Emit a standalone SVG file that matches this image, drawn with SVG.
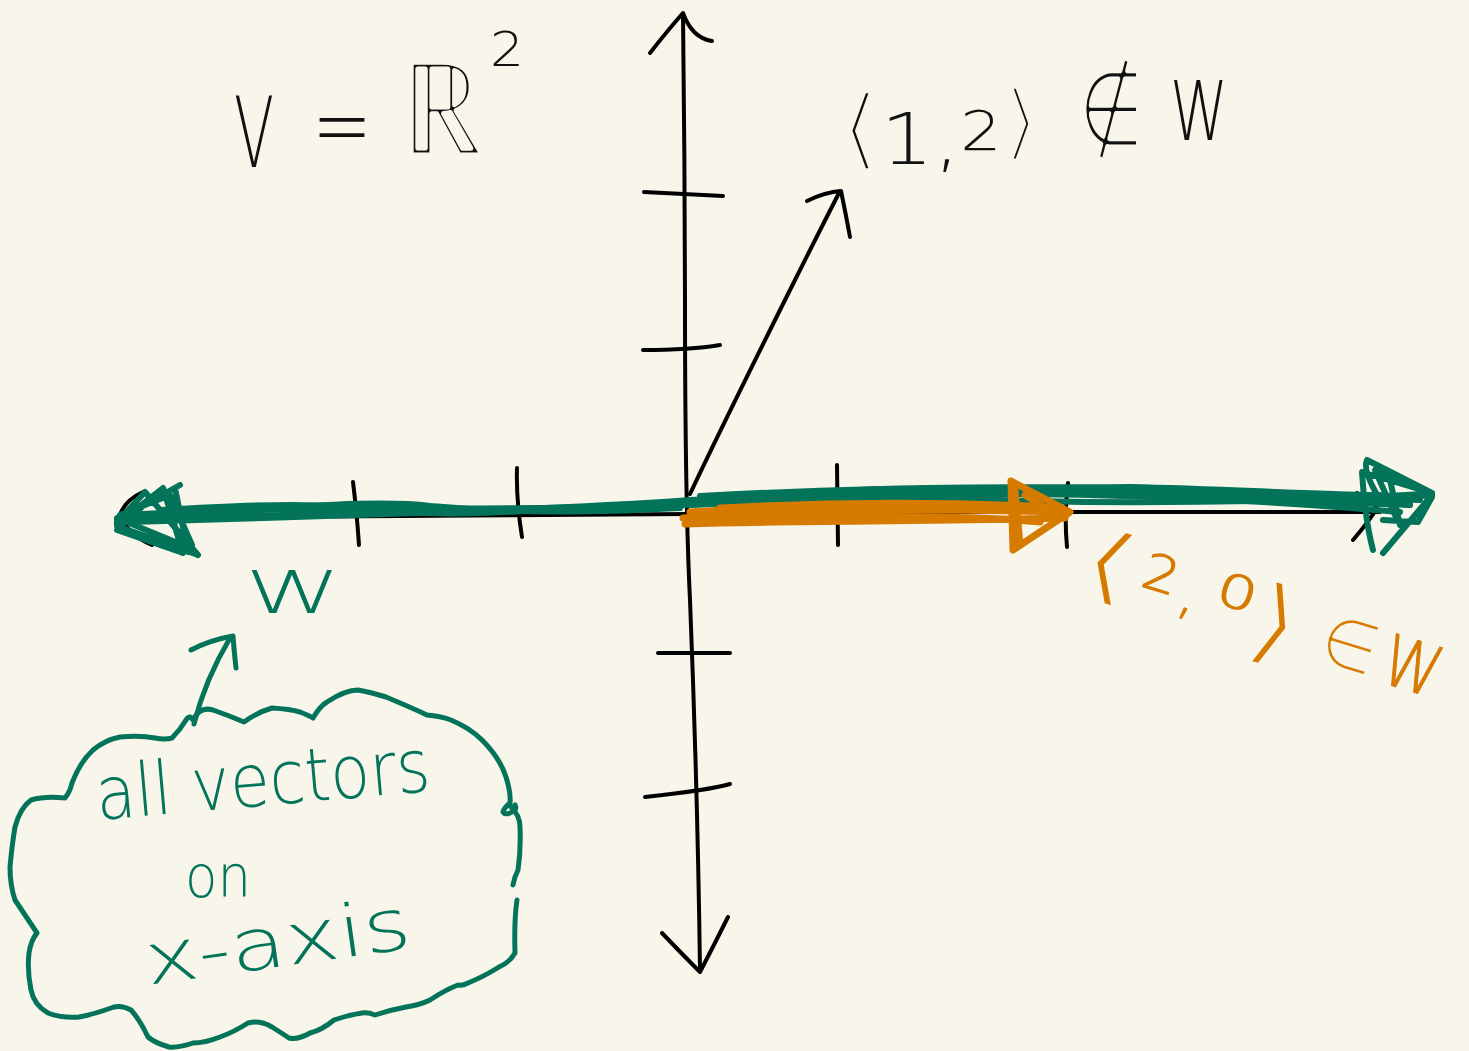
<svg xmlns="http://www.w3.org/2000/svg" width="1469" height="1051" viewBox="0 0 1469 1051">
<style>
  .ink { fill: none; stroke: #000; stroke-width: 4; stroke-linecap: round; stroke-linejoin: round; }
  .grn { fill: none; stroke: #03735a; stroke-width: 5; stroke-linecap: round; stroke-linejoin: round; }
  .grnw { fill: none; stroke: #03735a; stroke-width: 6; stroke-linecap: round; stroke-linejoin: round; }
  .org { fill: none; stroke: #d67a00; stroke-width: 7; stroke-linecap: round; stroke-linejoin: round; }
  .hand { font-family: "DejaVu Sans", "Liberation Sans", sans-serif; font-weight: 200; }
  .thin { stroke: #f8f6ea; stroke-width: 5; stroke-linejoin: round; }
  .thin2 { stroke: #f8f6ea; stroke-width: 3; stroke-linejoin: round; }
  .tk { fill: #111; }
  .tg { fill: #03735a; }
  .to { fill: #d67a00; }
  .tob { stroke: #d67a00; stroke-width: 1.2; stroke-linejoin: round; }
</style>
<rect width="1469" height="1051" fill="#f8f6ea"/>

<g id="y-axis">
  <path class="ink" d="M683,14 C684,120 685,195 685,300 C685,420 686,520 690,600 C694,700 698,820 700,970"/>
  <path class="ink" d="M650,53 Q668,30 683,13 Q692,38 712,41"/>
  <path class="ink" d="M662,933 Q683,955 700,972 Q714,945 728,917"/>
  <path class="ink" d="M644,192 L723,196"/>
  <path class="ink" d="M643,350 Q690,350 720,345"/>
  <path class="ink" d="M658,653 L730,653"/>
  <path class="ink" d="M645,797 Q710,790 730,784"/>
</g>

<g id="x-axis">
  <path class="ink" d="M118,518 C400,514 700,512 1000,512 L1380,512"/>
  <path class="ink" d="M143,492 Q125,500 120,515 Q128,535 152,545"/>
  <path class="ink" d="M1357,493 Q1370,498 1377,508 Q1370,520 1353,540"/>
  <path class="ink" d="M353,482 Q357,515 359,545"/>
  <path class="ink" d="M517,468 Q516,500 522,537"/>
  <path class="ink" d="M837,465 L838,545"/>
  <path class="ink" d="M1068,483 Q1064,515 1067,547"/>
</g>

<g id="vector-12">
  <path class="ink" d="M690,494 C720,430 760,350 795,280 Q815,240 840,191"/>
  <path class="ink" d="M807,201 Q825,192 841,191 Q846,215 850,237"/>
</g>

<g id="label-V">
  <text class="hand tk" x="234" y="167" font-size="98" textLength="40" lengthAdjust="spacingAndGlyphs">V</text>
  <text class="hand tk" x="312" y="158" font-size="96" textLength="60" lengthAdjust="spacingAndGlyphs">=</text>
  <text class="hand tk thin" x="400" y="155" font-size="130" textLength="84" lengthAdjust="spacingAndGlyphs">ℝ</text>
  <text class="hand tk" x="490" y="66" font-size="48" textLength="34" lengthAdjust="spacingAndGlyphs">2</text>
</g>

<g id="label-12">
  <text class="hand tk" x="840" y="159" font-size="72" textLength="200" lengthAdjust="spacingAndGlyphs"><tspan class="thin" font-size="90">⟨</tspan><tspan dy="5">1,</tspan><tspan font-size="56" dy="-14">2</tspan><tspan class="thin" font-size="84" dy="0">⟩</tspan></text>
  <text class="hand tk thin" x="1078" y="146" font-size="106" textLength="66" lengthAdjust="spacingAndGlyphs">∉</text>
  <text class="hand tk" x="1170" y="140" font-size="82" textLength="58" lengthAdjust="spacingAndGlyphs">W</text>
</g>

<g id="subspace-W">
  <path class="grnw" d="M120,520 C300,512 500,514 690,500 C900,490 1100,492 1420,500"/>
  <path class="grnw" d="M125,515 C350,502 600,516 800,498 C1000,486 1200,498 1410,505"/>
  <path class="grnw" d="M130,522 C400,514 650,506 1000,494 C1200,494 1350,508 1400,512"/>
  <path class="grnw" d="M190,514 C300,506 380,500 430,506 C520,514 600,512 680,508"/>
  <path class="grnw" d="M160,510 C260,504 330,502 400,512 C500,518 580,504 690,502"/>
  <path class="grnw" d="M700,496 C850,488 950,486 1130,492 C1250,496 1350,500 1420,494"/>
  <path class="grnw" d="M690,505 C800,500 900,496 1000,500 C1100,504 1250,502 1400,498"/>
  <path class="grnw" d="M860,490 C950,486 1030,488 1130,487 C1230,489 1300,494 1380,495"/>
  <path class="grnw" d="M117,520 L180,485 M117,522 L145,492 L198,555 M117,524 L163,488 L183,553 M117,526 L198,555 M117,518 L190,548 M175,488 L188,552 M117,530 L183,553 M120,515 L170,495 L192,545 M118,528 L150,500"/>
  <path class="grnw" d="M1432,493 L1367,460 Q1362,470 1380,500 L1432,495 M1432,493 L1362,472 Q1365,520 1373,550 M1432,495 L1383,553 M1432,497 L1418,522 L1383,520 M1432,493 L1390,480 L1400,525 M1410,505 L1365,500 M1425,490 L1375,470 L1395,515"/>
</g>

<g id="vector-20">
  <path class="org" d="M683,518 C800,510 900,508 1068,512"/>
  <path class="org" d="M685,524 C800,520 920,522 1065,518"/>
  <path class="org" d="M690,512 C800,504 950,508 1060,508"/>
  <path class="org" d="M700,520 C820,516 950,514 1040,522"/>
  <path class="org" d="M720,508 C830,502 930,502 1030,506"/>
  <path class="org" d="M1011,481 L1070,512 L1013,550 Z M1015,490 L1020,545 M1025,495 L1062,518 M1011,481 L1016,520"/>
</g>

<g id="label-20" transform="translate(1086,588) rotate(17)">
  <text class="hand to thin2" x="-12" y="0" font-size="86" textLength="56" lengthAdjust="spacingAndGlyphs">⟨</text>
  <text class="hand to tob" x="50" y="-18" font-size="50" textLength="36" lengthAdjust="spacingAndGlyphs">2</text>
  <text class="hand to tob" x="92" y="-6" font-size="60" textLength="18" lengthAdjust="spacingAndGlyphs">,</text>
  <text class="hand to tob" x="126" y="-24" font-size="46" textLength="40" lengthAdjust="spacingAndGlyphs">0</text>
  <text class="hand to thin2" x="168" y="10" font-size="96" textLength="46" lengthAdjust="spacingAndGlyphs">⟩</text>
  <text class="hand to thin2" x="240" y="2" font-size="72" textLength="58" lengthAdjust="spacingAndGlyphs">∈</text>
  <text class="hand to tob" x="306" y="4" font-size="70" textLength="58" lengthAdjust="spacingAndGlyphs">W</text>
</g>

<g id="label-W">
  <text class="hand tg" x="245" y="613" font-size="58" textLength="96" lengthAdjust="spacingAndGlyphs">W</text>
</g>

<g id="cloud">
  <path class="grn" d="M193,720 Q200,706 213,710 Q230,716 244,722 Q258,712 272,708 Q290,709 300,712 Q310,716 313,718 Q320,706 327,702 Q345,690 358,690 Q370,692 386,697 Q410,707 427,715 Q440,716 451,720 Q470,728 482,740 Q500,758 506,777 Q511,793 510,803 Q504,808 503,812 Q505,815 510,813 Q518,810 515,805 M510,806 Q520,815 520,827 Q521,850 518,870 Q514,878 513,885"/>
  <path class="grn" d="M517,900 Q514,920 515,953 Q510,962 499,967 Q485,976 468,983 Q462,986 458,985 Q445,990 430,1000 Q420,1005 406,1007 Q390,1010 375,1015 Q368,1012 362,1013 Q348,1015 334,1020 Q322,1030 310,1033 Q298,1040 289,1038 Q280,1032 272,1027 Q260,1020 248,1023 Q234,1032 220,1037 Q205,1043 193,1043 Q178,1048 169,1047 Q155,1043 148,1037 Q140,1020 131,1010 Q122,1005 114,1007 Q95,1014 79,1017 Q60,1018 48,1013 Q34,1005 31,990 Q27,970 29,953 Q31,940 37,933 Q25,915 15,900 Q10,885 10,867 Q12,845 15,827 Q20,808 31,800 Q45,796 65,798 Q70,792 72,783 Q80,762 93,750 Q105,740 120,737 Q140,735 155,738 Q165,740 172,738 Q180,730 186,720 Q190,714 193,720"/>
  <text class="hand tg" transform="translate(98,820) rotate(-5)" font-size="74" textLength="335" lengthAdjust="spacingAndGlyphs">all vectors</text>
  <text class="hand tg" x="185" y="897" font-size="58" textLength="66" lengthAdjust="spacingAndGlyphs">on</text>
  <text class="hand tg" transform="translate(148,985) rotate(-8)" font-size="72" textLength="268" lengthAdjust="spacingAndGlyphs">x-axis</text>
</g>

<g id="connectors">
  <path class="grn" d="M194,724 Q205,680 230,638"/>
  <path class="grn" d="M191,650 Q210,640 233,636 Q234,650 236,668"/>
</g>
</svg>
